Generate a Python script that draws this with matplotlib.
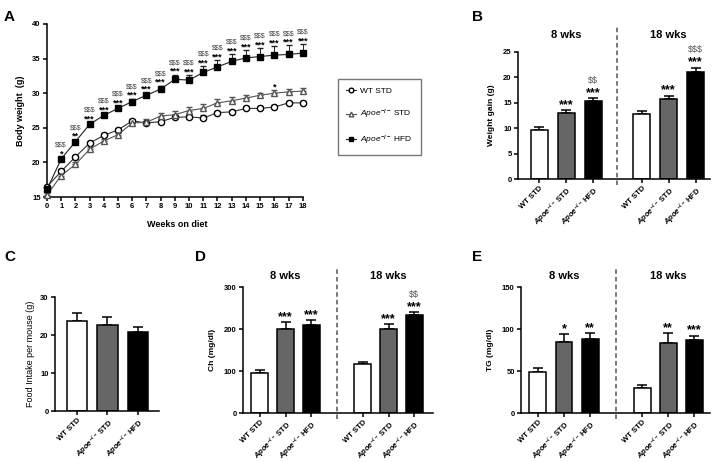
import numpy as np
import matplotlib
matplotlib.use("Agg")
import matplotlib.pyplot as plt

plt.rcParams['font.family'] = 'Liberation Sans'
plt.rcParams['mathtext.fontset'] = 'custom'
plt.rcParams['mathtext.rm'] = 'Liberation Sans:bold'
plt.rcParams['mathtext.it'] = 'Liberation Sans:italic:bold'
plt.rcParams['mathtext.sf'] = 'Liberation Sans:italic'
plt.rcParams['mathtext.bf'] = 'Liberation Sans:bold'

## data
weeks = np.arange(0, 19)
wt_std = [16.5, 18.7, 20.8, 22.8, 23.9, 24.7, 26.0, 25.7, 25.9, 26.5, 26.6, 26.4, 27.2, 27.3, 27.8, 27.8, 28.0, 28.6, 28.6]
wt_std_err = [0.3, 0.3, 0.3, 0.3, 0.3, 0.3, 0.3, 0.3, 0.3, 0.3, 0.3, 0.4, 0.3, 0.3, 0.3, 0.3, 0.3, 0.3, 0.3]
apoe_std = [15.3, 18.1, 19.7, 21.9, 23.1, 24.0, 25.7, 25.8, 26.7, 26.9, 27.5, 27.8, 28.6, 28.9, 29.3, 29.7, 30.0, 30.2, 30.3]
apoe_std_err = [0.3, 0.3, 0.3, 0.3, 0.3, 0.3, 0.4, 0.4, 0.5, 0.5, 0.5, 0.6, 0.6, 0.5, 0.4, 0.4, 0.4, 0.4, 0.4]
apoe_hfd = [16.1, 20.5, 23.0, 25.5, 26.8, 27.8, 28.8, 29.7, 30.6, 32.0, 31.9, 33.0, 33.8, 34.6, 35.1, 35.3, 35.5, 35.6, 35.8]
apoe_hfd_err = [0.3, 0.3, 0.3, 0.3, 0.3, 0.3, 0.4, 0.4, 0.5, 0.7, 0.7, 0.9, 1.0, 1.1, 1.1, 1.2, 1.3, 1.3, 1.3]
hfd_stars = ['', '*', '**'] + ['***'] * 16
hfd_dollars = [''] + ['$$$'] * 18
std_stars = [''] * 16 + ['*', '', '']

groups = ['WT STD', r'$\mathit{Apoe}^{-/-}$ STD', r'$\mathit{Apoe}^{-/-}$ HFD']

gain = [9.7, 12.9, 15.3, 12.8, 15.7, 21.0]
gain_err = [0.6, 0.7, 0.6, 0.6, 0.7, 0.9]
gain_stars = ['', '***', '***', '', '***', '***']
gain_dollars = ['', '', '$$', '', '', '$$$']

food = [23.6, 22.6, 20.7]
food_err = [2.3, 2.2, 1.5]

chol = [96, 199, 209, 117, 201, 233]
chol_err = [7, 18, 13, 4, 10, 7]
chol_stars = ['', '***', '***', '', '***', '***']
chol_dollars = ['', '', '', '', '', '$$']

tg = [49, 85, 88, 30, 83, 87]
tg_err = [5, 9, 7, 3, 12, 5]
tg_stars = ['', '*', '**', '', '**', '***']
tg_dollars = [''] * 6

colors = ['white', '#666666', 'black']
W, H = 713, 462

fig = plt.figure(figsize=(W / 100, H / 100), dpi=100)


def esc(s):
    return s.replace('$', r'\$')


def style(ax):
    for s in ['top', 'right']:
        ax.spines[s].set_visible(False)
    for s in ['left', 'bottom']:
        ax.spines[s].set_linewidth(1.1)
    ax.tick_params(width=1.1, length=3, labelsize=5.5, pad=1.5)
    for lab in ax.get_yticklabels() + ax.get_xticklabels():
        lab.set_fontweight('bold')


def bars(ax, pos, vals, errs, stars, dollars, width, ymax):
    cols = colors * (len(vals) // 3)
    ax.bar(pos, vals, width=width, color=cols, edgecolor='black', linewidth=1.1, zorder=2)
    ax.errorbar(pos, vals, yerr=[np.zeros(len(vals)), errs], fmt='none', ecolor='black',
                elinewidth=1.1, capsize=3.5, capthick=1.1, zorder=1)
    for x, v, e, s, d in zip(pos, vals, errs, stars, dollars):
        if s:
            ax.annotate(s, (x, v + e), xytext=(0, 1.5), textcoords='offset points',
                        ha='center', va='baseline', fontsize=9, fontweight='bold')
        if d:
            ax.annotate(esc(d), (x, v + e), xytext=(0, 11), textcoords='offset points',
                        ha='center', va='baseline', fontsize=6.5, color='#555555')
    ax.set_xticks(pos)
    ax.set_xticklabels(groups * (len(vals) // 3), rotation=45, ha='right', rotation_mode='anchor')
    ax.set_ylim(0, ymax)
    style(ax)


def split(ax, xline, pos, top):
    ax.plot([xline, xline], [-0.05, top], transform=ax.get_xaxis_transform(), clip_on=False,
            color='#555555', ls=(0, (3, 2)), lw=1.1)
    ax.text(pos[1], top - 0.09, '8 wks', transform=ax.get_xaxis_transform(), ha='center',
            fontsize=8, fontweight='bold')
    ax.text(pos[4], top - 0.09, '18 wks', transform=ax.get_xaxis_transform(), ha='center',
            fontsize=8, fontweight='bold')


# A
axA = fig.add_axes([47 / W, 265 / H, 260 / W, 173 / H])
e1 = axA.errorbar(weeks, wt_std, yerr=[np.zeros(19), wt_std_err], fmt='-o', color='#333333', mfc='white',
                  mec='black', ms=4.5, lw=0.8, capsize=2, elinewidth=0.7, clip_on=False, zorder=3)
e2 = axA.errorbar(weeks, apoe_std, yerr=[np.zeros(19), apoe_std_err], fmt='-^', color='#555555', mfc='white',
                  mec='#555555', ms=4.5, lw=0.8, capsize=2, elinewidth=0.7, clip_on=False, zorder=3)
e3 = axA.errorbar(weeks, apoe_hfd, yerr=[np.zeros(19), apoe_hfd_err], fmt='-s', color='#222222', mfc='black',
                  mec='black', ms=4.5, lw=0.8, capsize=2, elinewidth=0.7, clip_on=False, zorder=3)
for x, v, e, s, d in zip(weeks, apoe_hfd, apoe_hfd_err, hfd_stars, hfd_dollars):
    if s:
        axA.annotate(s, (x, v + e), xytext=(0, 0.5), textcoords='offset points', ha='center',
                     va='baseline', fontsize=6.5, fontweight='bold')
    if d:
        axA.annotate(esc(d), (x, v + e), xytext=(0, 7.5), textcoords='offset points', ha='center',
                     va='baseline', fontsize=5, color='#444444')
for x, v, e, s in zip(weeks, apoe_std, apoe_std_err, std_stars):
    if s:
        axA.annotate(s, (x, v + e), xytext=(0, 0.5), textcoords='offset points', ha='center',
                     va='baseline', fontsize=6.5, fontweight='bold')
axA.set_xlim(0, 18.3)
axA.set_ylim(15, 40)
axA.set_xticks(weeks)
axA.set_yticks([15, 20, 25, 30, 35, 40])
axA.spines['bottom'].set_bounds(0, 18)
axA.set_xlabel('Weeks on diet', fontsize=6.5, fontweight='bold', labelpad=7)
axA.set_ylabel('Body weight  (g)', fontsize=6.5, fontweight='bold', labelpad=5)
style(axA)
axA.legend([e1[0], e2[0], e3[0]],
           ['WT STD', r'$\mathsf{Apoe}^{-/-}$ STD', r'$\mathsf{Apoe}^{-/-}$ HFD'],
           loc='upper left', bbox_to_anchor=(338 / W, 1 - 79 / H), bbox_transform=fig.transFigure,
           fontsize=6, fancybox=False, edgecolor='#777777', framealpha=1, labelspacing=1.5,
           handlelength=1.2, borderpad=1.0, borderaxespad=0, handletextpad=0.5, markerscale=0.75)

# B
posB = [0, 1, 2, 3.8, 4.8, 5.8]
axB = fig.add_axes([518 / W, 283 / H, 192 / W, 127 / H])
bars(axB, posB, gain, gain_err, gain_stars, gain_dollars, 0.63, 25)
axB.set_yticks([0, 5, 10, 15, 20, 25])
axB.set_xlim(-0.78, 6.33)
axB.set_ylabel('Weight gain (g)', fontsize=6, fontweight='bold', labelpad=6)
split(axB, 2.89, posB, 1.2)

# C
posC = [0, 1, 2]
axC = fig.add_axes([55 / W, 51 / H, 104 / W, 114 / H])
bars(axC, posC, food, food_err, [''] * 3, [''] * 3, 0.66, 30)
axC.set_yticks([0, 10, 20, 30])
axC.set_xlim(-0.72, 2.69)
axC.set_ylabel('Food Intake per mouse (g)', fontsize=6.5)

# D
posD = [0, 1, 2, 4, 5, 6]
axD = fig.add_axes([243 / W, 49 / H, 190 / W, 126 / H])
bars(axD, posD, chol, chol_err, chol_stars, chol_dollars, 0.66, 300)
axD.set_yticks([0, 100, 200, 300])
axD.set_xlim(-0.66, 6.73)
axD.set_ylabel('Ch (mg/dl)', fontsize=6, fontweight='bold', labelpad=6)
split(axD, 3.0, posD, 1.15)

# E
posE = [0, 1, 2, 4, 5, 6]
axE = fig.add_axes([521 / W, 49 / H, 189 / W, 126 / H])
bars(axE, posE, tg, tg_err, tg_stars, tg_dollars, 0.65, 150)
axE.set_yticks([0, 50, 100, 150])
axE.set_xlim(-0.65, 6.6)
axE.set_ylabel('TG (mg/dl)', fontsize=6, fontweight='bold', labelpad=6)
split(axE, 3.0, posE, 1.15)

# panel letters
for lab, x, y in [('A', 4, 10), ('B', 472, 10), ('C', 4, 250), ('D', 195, 250), ('E', 472, 250)]:
    fig.text(x / W, 1 - y / H, lab, fontsize=11, fontweight='bold', va='top')

fig.savefig('out.png', dpi=100)
